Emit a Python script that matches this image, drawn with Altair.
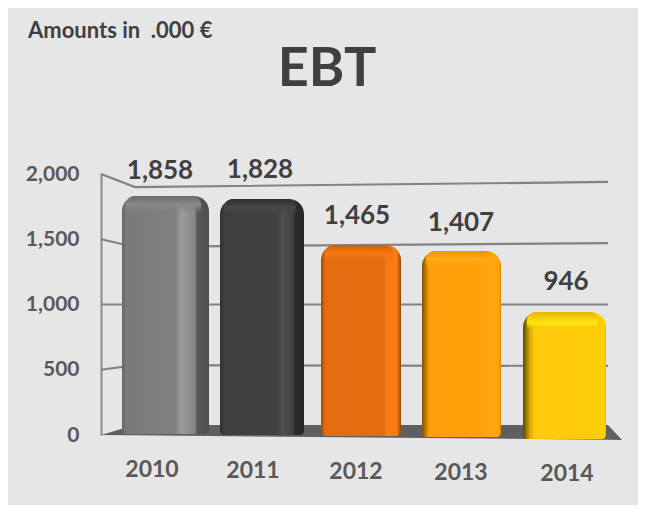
import altair as alt
import pandas as pd

years = [2010, 2011, 2012, 2013, 2014]
values = [1858, 1828, 1465, 1407, 946]
# Heights as drawn on the slanted 3-D axis
drawn_top = [1831, 1808, 1456, 1410, 942]
drawn_base = [8, 0, -8, -15, -31]

wall_years = [2009.37, 2009.71, 2014.44]
grid_2000 = [2000, 1900, 1939]
grid_1500 = [1500, 1441, 1471]
grid_1000 = [1000, 1000, 1000]
grid_500 = [500, 536, 529]

floor_years = [2009.37, 2009.71, 2014.44, 2014.58]
floor_back = [0, 77, 77, -38]
floor_front = [0, -2, -36, -38]

Y = alt.Scale(domain=[0, 2000])
X = alt.Scale(domain=[2009.37, 2014.44], padding=0)
y_axis = alt.Axis(
    values=[0, 500, 1000, 1500, 2000],
    format=",.0f",
    title=None,
    grid=False,
    ticks=False,
    domainColor="#8c8c8c",
    domainWidth=2,
    labelPadding=22,
    labelFont="Lato",
    labelFontWeight="bold",
    labelFontSize=21,
    labelColor="#595959",
)


def y_of(field):
    return alt.Y(f"{field}:Q", scale=Y, axis=y_axis)


x_enc = alt.X("x:Q", scale=X, axis=None)

grid_rows = []
for level, series in zip([2000, 1500, 1000, 500], [grid_2000, grid_1500, grid_1000, grid_500]):
    for wx, wy in zip(wall_years, series):
        grid_rows.append({"x": wx, "y": wy, "level": level})

grid = (
    alt.Chart(pd.DataFrame(grid_rows))
    .mark_line(color="#838383", strokeWidth=2.2)
    .encode(x=x_enc, y=y_of("y"), detail="level:N", order=alt.Order("x:Q"))
)

floor = (
    alt.Chart(pd.DataFrame({"x": floor_years, "y": floor_back, "y2": floor_front}))
    .mark_area(color="#606060")
    .encode(x=x_enc, y=y_of("y"), y2="y2:Q")
)


def h_grad(stops):
    return alt.Gradient(
        gradient="linear", x1=0, x2=1, y1=0, y2=0,
        stops=[alt.GradientStop(offset=o, color=c) for o, c in stops],
    )


def v_grad(stops):
    return alt.Gradient(
        gradient="linear", x1=0, x2=0, y1=0, y2=1,
        stops=[alt.GradientStop(offset=o, color=c) for o, c in stops],
    )


faces = [
    [(0, "#666666"), (0.05, "#7a7a7a"), (0.62, "#808080"), (0.68, "#9c9c9c"), (0.84, "#868686"),
     (0.86, "#5a5a5a"), (1, "#4c4c4c")],
    [(0, "#2e2e2e"), (0.05, "#3e3e3e"), (0.68, "#424242"), (0.74, "#505050"), (0.87, "#424242"),
     (0.89, "#2c2c2c"), (1, "#262626")],
    [(0, "#9a4a02"), (0.05, "#e26c10"), (0.78, "#e66e10"), (0.83, "#fa7d14"), (0.95, "#f87a12"),
     (1, "#8f4500")],
    [(0, "#7f5000"), (0.09, "#ff9e08"), (0.8, "#ffa008"), (0.85, "#ffa810"), (0.97, "#ffa40a"),
     (1, "#d98800")],
    [(0, "#5a4600"), (0.08, "#d6a806"), (0.14, "#ffca0a"), (0.9, "#ffcc08"), (0.98, "#ffd200"),
     (1, "#e0b400")],
]
bevels = [
    [(0, "#6a6a6a"), (0.5, "#8a8a8a"), (1, "rgba(128,128,128,0)")],
    [(0, "#2e2e2e"), (0.5, "#474747"), (1, "rgba(66,66,66,0)")],
    [(0, "#d25f00"), (0.5, "#f47a12"), (1, "rgba(230,110,16,0)")],
    [(0, "#f09000"), (0.5, "#ffac14"), (1, "rgba(255,160,8,0)")],
    [(0, "#e6b400"), (0.65, "#ffe614"), (1, "rgba(255,203,10,0)")],
]
widths = [87, 84, 80, 79, 83]
bar_shift = [1.5, -2, -3, -2.5, 0.5]
value_lift = [-25, -29, -29, -28, -30]
value_shift = [-4, -4, -7, -3, 2]
year_shift = [-12, -11, -8, -3, 3]
year_drop = [35, 36, 37, 38, 39]

layers = [grid, floor]
for i, yr in enumerate(years):
    row = pd.DataFrame(
        [{"x": yr, "top": drawn_top[i], "base": drawn_base[i], "bevel": drawn_top[i] - 130,
          "value": values[i], "label": str(yr), "zero": 0}]
    )
    base = alt.Chart(row)
    layers.append(
        base.mark_bar(
            width=widths[i], xOffset=bar_shift[i], color=h_grad(faces[i]),
            cornerRadiusTopLeft=15, cornerRadiusTopRight=15,
            cornerRadiusBottomLeft=4, cornerRadiusBottomRight=4,
        ).encode(x=x_enc, y=y_of("top"), y2="base:Q")
    )
    layers.append(
        base.mark_bar(
            width=widths[i] - 12, xOffset=bar_shift[i] - 2, color=v_grad(bevels[i]),
            cornerRadiusTopLeft=10, cornerRadiusTopRight=10,
        ).encode(x=x_enc, y=y_of("top"), y2="bevel:Q")
    )
    layers.append(
        base.mark_text(
            font="Lato", fontWeight="bold", fontSize=26, color="#404040",
            dx=value_shift[i], dy=value_lift[i],
        ).encode(x=x_enc, y=y_of("top"), text=alt.Text("value:Q", format=",.0f"))
    )
    layers.append(
        base.mark_text(
            font="Lato", fontWeight="bold", fontSize=23, color="#595959",
            dx=year_shift[i], dy=year_drop[i],
        ).encode(x=x_enc, y=y_of("zero"), text="label:N")
    )

note = (
    alt.Chart(pd.DataFrame({"t": ["Amounts in \u00a0.000 €"]}))
    .mark_text(font="Lato", fontWeight="bold", fontSize=22, color="#404040", align="left")
    .encode(x=alt.value(-73), y=alt.value(-143), text="t:N")
)
title = (
    alt.Chart(pd.DataFrame({"t": ["EBT"]}))
    .mark_text(font="Lato", fontWeight="bold", fontSize=54, color="#404040")
    .encode(x=alt.value(226), y=alt.value(-104), text="t:N")
)
layers += [note, title]

chart = (
    alt.layer(*layers)
    .properties(
        width=507,
        height=261,
        background="#e6e6e6",
        padding={"left": 93, "top": 166, "right": 30, "bottom": 70},
        autosize=alt.AutoSizeParams(type="none"),
    )
    .configure_view(stroke=None)
)

chart.save("out.html", embed_options={"renderer": "svg", "actions": False})
